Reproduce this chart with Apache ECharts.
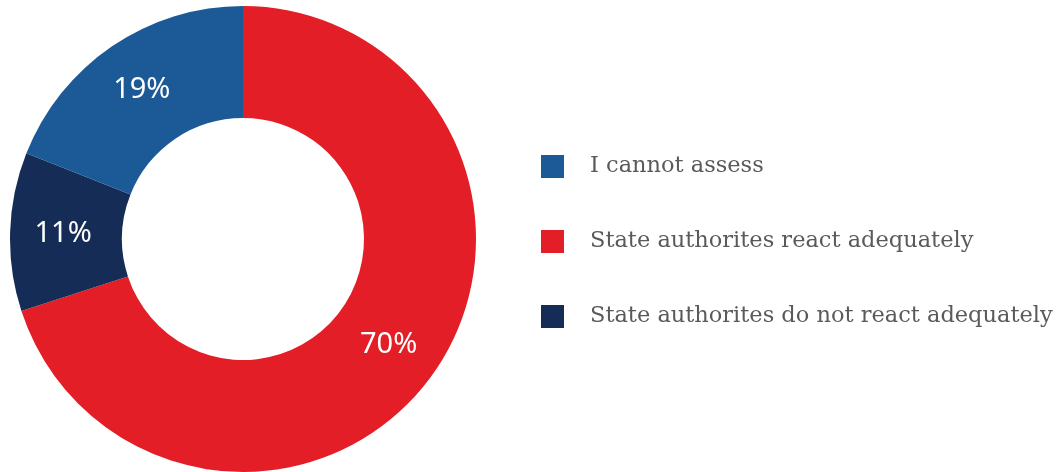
<!DOCTYPE html>
<html>
<head>
<meta charset="utf-8">
<script src="https://cdn.jsdelivr.net/npm/echarts@6/dist/echarts.min.js"></script>
<style>
  html, body { margin: 0; padding: 0; background: #ffffff; }
  #chart { width: 1059px; height: 472px; }
</style>
</head>
<body>
<div id="chart"></div>
<script>
// Slices, listed clockwise from 12 o'clock
const categories = [
  'State authorites react adequately',
  'State authorites do not react adequately',
  'I cannot assess'
];
const values = [70, 11, 19];
const colors = ['#e31e26', '#152d56', '#1c5a97'];
// Legend reads in a different order than the slices
const legendOrder = [
  'I cannot assess',
  'State authorites react adequately',
  'State authorites do not react adequately'
];

const chart = echarts.init(document.getElementById('chart'), null, { renderer: 'canvas' });

chart.setOption({
  animation: false,
  backgroundColor: '#ffffff',
  color: colors,
  legend: {
    data: legendOrder,
    orient: 'vertical',
    left: 541,
    top: 155,
    padding: 0,
    itemWidth: 23,
    itemHeight: 23,
    itemGap: 52,
    icon: 'rect',
    textStyle: {
      fontFamily: 'DejaVu Serif',
      fontSize: 22.5,
      color: '#5a5a5a',
      padding: [0, 0, 0, 21]
    }
  },
  series: [{
    type: 'pie',
    center: [243, 239],
    radius: [121, 233],
    startAngle: 90,
    clockwise: true,
    avoidLabelOverlap: false,
    label: {
      show: true,
      position: 'inside',
      formatter: '{c}%',
      color: '#ffffff',
      fontFamily: 'Noto Sans',
      fontSize: 29
    },
    labelLine: { show: false },
    emphasis: { disabled: true },
    itemStyle: { borderWidth: 0 },
    data: categories.map((name, i) => ({
      name: name,
      value: values[i],
      itemStyle: { color: colors[i] }
    }))
  }]
});
</script>
</body>
</html>
